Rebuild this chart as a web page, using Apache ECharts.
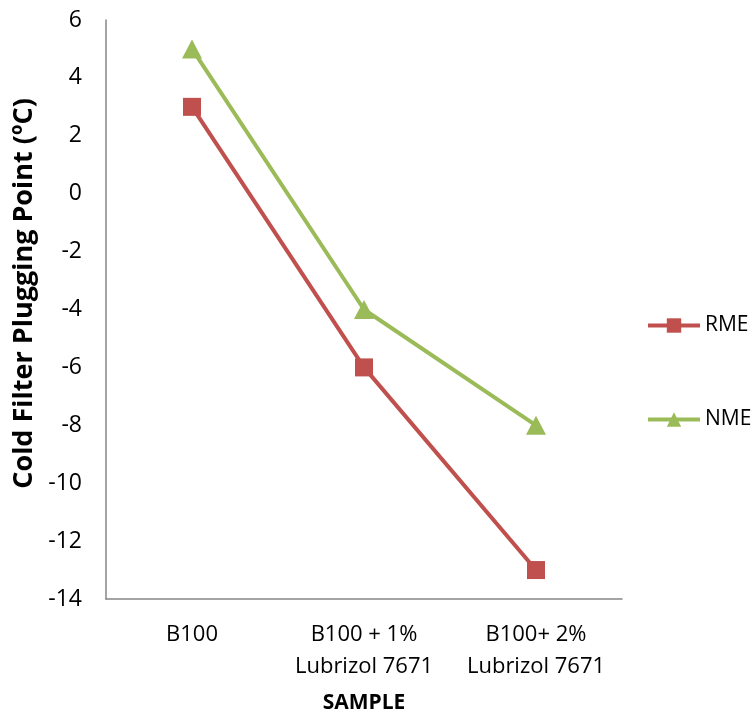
<!DOCTYPE html>
<html>
<head>
<meta charset="utf-8">
<script src="https://cdn.jsdelivr.net/npm/echarts@6/dist/echarts.min.js"></script>
<style>html,body{margin:0;padding:0;background:#fff}#c{width:754px;height:719px}</style>
</head>
<body>
<div id="c"></div>
<script>
var categories = ["B100", "B100 + 1%\nLubrizol 7671", "B100+ 2%\nLubrizol 7671"];
var rme = [3, -6, -13];
var nme = [5, -4, -8];
var yTicks = {min: -14, max: 6, interval: 2};
var FONT = "Open Sans";

var chart = echarts.init(document.getElementById('c'), null, {renderer: 'canvas'});
chart.setOption({
  animation: false,
  backgroundColor: '#fff',
  grid: {left: 106, right: 132, top: 20, bottom: 116, containLabel: false},
  legend: {
    orient: 'vertical',
    left: 646, top: 315, padding: 0,
    itemWidth: 52, itemHeight: 18, itemGap: 73,
    lineStyle: {width: 4},
    textStyle: {fontFamily: FONT, fontSize: 21, color: '#000', lineHeight: 18},
    data: ['RME', 'NME']
  },
  xAxis: {
    type: 'category',
    data: categories,
    boundaryGap: true,
    axisLine: {onZero: false, lineStyle: {color: '#868686', width: 1.5}},
    axisTick: {show: false},
    axisLabel: {fontFamily: FONT, fontSize: 22, color: '#000', lineHeight: 32, margin: 20, interval: 0},
    name: 'SAMPLE', nameLocation: 'middle', nameGap: 94,
    nameTextStyle: {fontFamily: FONT, fontSize: 21, fontWeight: 'bold', color: '#000'}
  },
  yAxis: {
    type: 'value',
    min: yTicks.min, max: yTicks.max, interval: yTicks.interval,
    axisLine: {show: true, onZero: false, lineStyle: {color: '#868686', width: 1.5}},
    axisTick: {show: false},
    splitLine: {show: false},
    axisLabel: {fontFamily: FONT, fontSize: 23, color: '#000', margin: 24},
    name: 'Cold Filter Plugging Point (ºC)', nameLocation: 'middle', nameGap: 68,
    nameTextStyle: {fontFamily: FONT, fontSize: 27, fontWeight: 'bold', color: '#000', padding: [0, 0, 0, 32]}
  },
  series: [
    {name: 'RME', type: 'line', data: rme, symbol: 'rect', symbolSize: 18,
     lineStyle: {color: '#C0504D', width: 4}, itemStyle: {color: '#C0504D'}},
    {name: 'NME', type: 'line', data: nme, symbol: 'triangle', symbolSize: [20, 19],
     lineStyle: {color: '#9BBB59', width: 4}, itemStyle: {color: '#9BBB59'}}
  ]
});
</script>
</body>
</html>
